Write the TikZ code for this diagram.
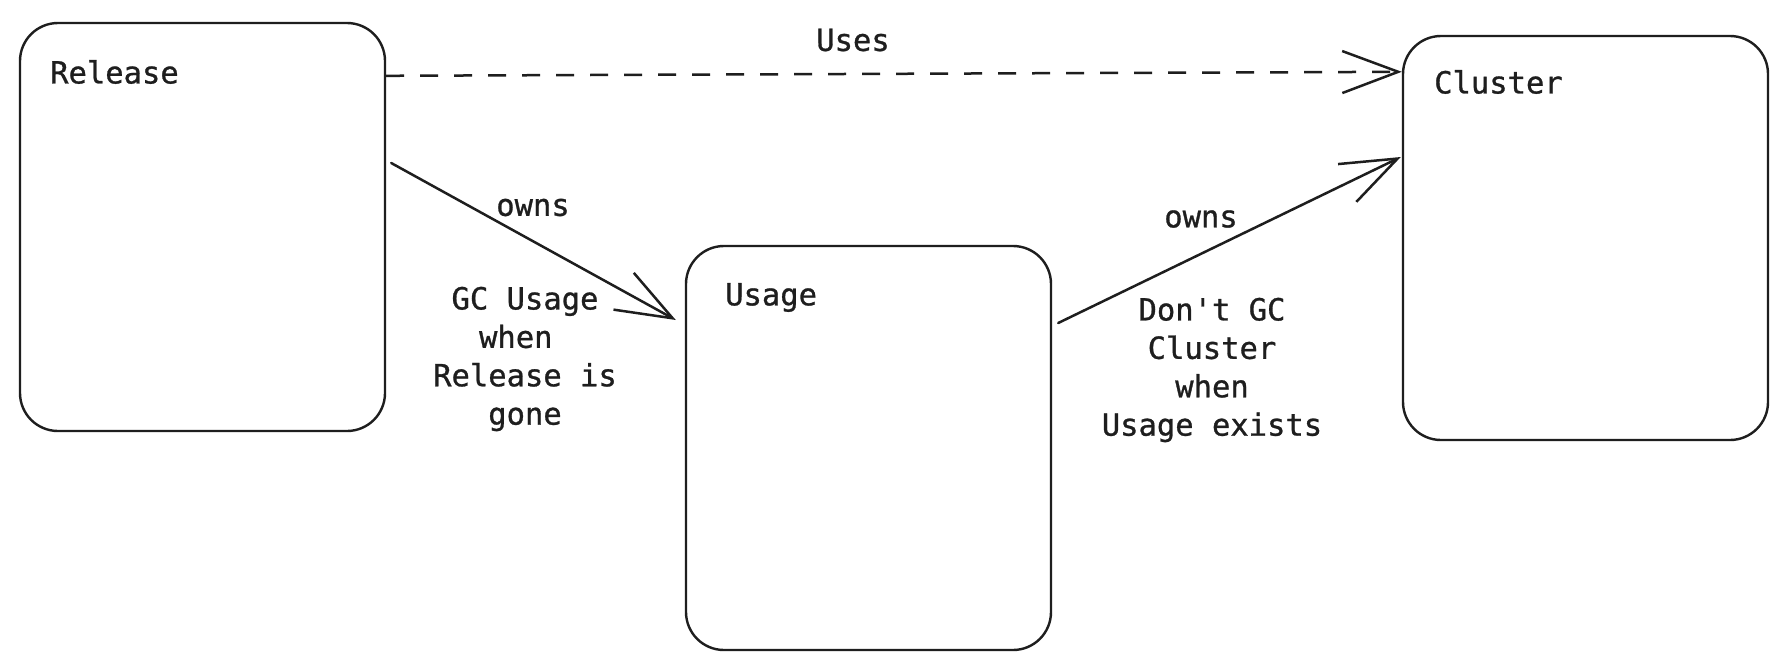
\documentclass[tikz,border=0pt]{standalone}
\usepackage{fontspec}
\newfontfamily\sketchfont[FakeBold=0.9]{DejaVu Sans Mono}
\usetikzlibrary{arrows.meta}
\definecolor{ink}{HTML}{1E1E1E}
\tikzset{
  box/.style={draw=ink, line width=2.4pt, rounded corners=38pt, minimum width=365pt, inner sep=0pt},
  lbl/.style={text=ink, font=\sketchfont\fontsize{30.5}{38.4}\selectfont, inner sep=0pt, align=center},
  conn/.style={draw=ink, line width=2.5pt, line cap=round, -{Straight Barb[length=56pt,width=42pt,line width=2.5pt]}},
  dashconn/.style={conn, line cap=butt, dash pattern=on 18pt off 16pt}
}
\begin{document}
\begin{tikzpicture}[x=1pt,y=-1pt]
\useasboundingbox (0,0) rectangle (1788,670);
\fill[white] (0,0) rectangle (1788,670);
% boxes
\node[box, minimum height=408pt] (rel) at (202.5,227) {};
\node[box, minimum height=404pt] (usa) at (868.5,448) {};
\node[box, minimum height=404pt] (clu) at (1585.5,238) {};
% box titles
\node[lbl, anchor=west] (relt) at (50,72) {Release};
\node[lbl, anchor=west] (usat) at (725,297.5) {Usage};
\node[lbl, anchor=west] (clut) at (1434,82) {Cluster};
% connector end points
\coordinate (d1) at ([yshift=-54pt]rel.north east);
\coordinate (d2) at ([yshift=-37pt]clu.north west);
\coordinate (a1) at ([xshift=5pt,yshift=64pt]rel.east);
\coordinate (b1) at ([xshift=-9pt,yshift=128pt]usa.west);
\coordinate (a2) at ([xshift=6pt,yshift=125pt]usa.east);
\coordinate (b2) at ([xshift=-1pt,yshift=81pt]clu.west);
% connectors
\draw[dashconn] (d1) -- (d2);
\draw[conn] (a1) -- (b1);
\draw[conn] (a2) -- (b2);
% connector labels
\node[lbl] (uses) at (853,40) {Uses};
\node[lbl] (own1) at (533,207.5) {owns};
\node[lbl] (gc1) at (525,359) {GC Usage\\when\phantom{x}\\Release is\\gone};
\node[lbl] (own2) at (1201,219) {owns};
\node[lbl] (gc2) at (1212,370) {Don't GC\\Cluster\\when\\Usage exists};
\end{tikzpicture}
\end{document}
